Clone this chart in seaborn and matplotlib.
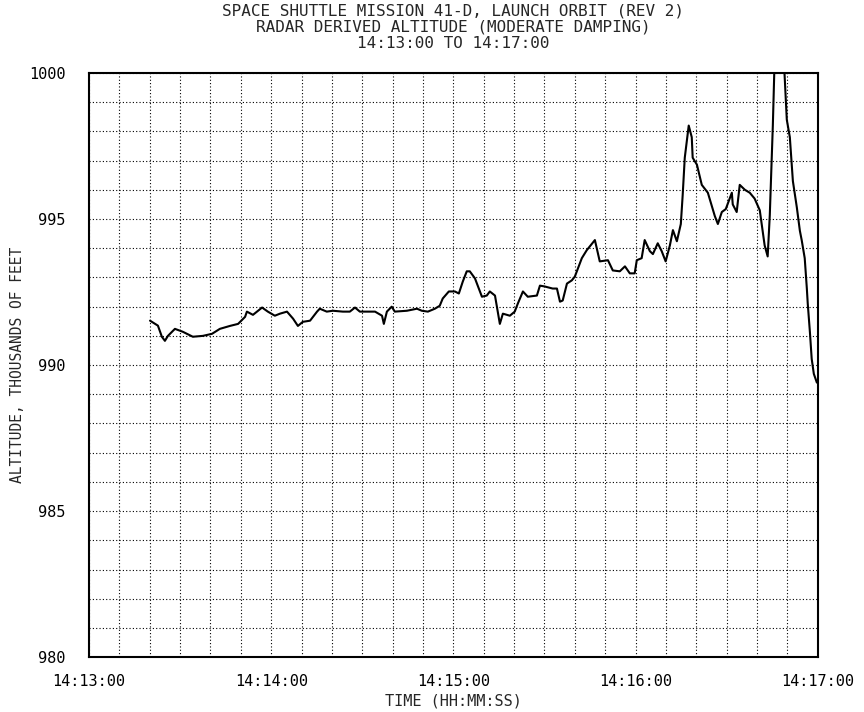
import numpy as np
import pandas as pd
import seaborn as sns
import matplotlib.pyplot as plt
from matplotlib.ticker import MultipleLocator

# seconds after 14:13:00
seconds = [
    20.1, 22.7, 24.0, 25.0, 26.0, 28.3, 30.9, 34.2, 37.5, 40.5,
    43.1, 46.4, 49.1, 51.4, 52.0, 54.0, 57.0, 58.9, 61.2, 62.9,
    65.2, 67.2, 68.8, 70.4, 72.8, 75.1, 76.0, 78.3, 80.3, 83.6,
    85.9, 87.6, 89.2, 91.5, 94.2, 96.5, 97.1, 98.1, 99.7, 100.7,
    104.7, 108.0, 109.6, 111.6, 113.9, 115.5, 116.5, 118.5, 120.5, 121.8,
    123.1, 124.4, 125.4, 127.1, 129.4, 131.0, 132.0, 133.7, 134.6, 135.3,
    136.3, 138.6, 140.2, 141.2, 142.9, 144.5, 147.5, 148.5, 150.1, 152.7,
    154.1, 155.1, 156.0, 157.4, 159.0, 160.0, 162.3, 163.9, 166.6, 168.2,
    170.9, 172.5, 174.8, 176.5, 178.1, 179.7, 180.4, 182.0, 183.0, 184.7,
    185.7, 187.3, 188.6, 189.9, 191.3, 192.3, 193.6, 194.9, 195.5, 196.2,
    197.5, 198.5, 198.8, 200.2, 201.8, 203.8, 206.1, 207.1, 208.4, 209.7,
    211.7, 212.0, 213.3, 214.3, 216.0, 217.6, 219.2, 220.9, 222.5, 223.5,
    224.2, 225.2, 225.8, 226.8, 228.1, 228.8, 229.8, 230.8, 231.8, 233.1,
    234.1, 234.7, 235.7, 236.4, 236.7, 237.4, 238.0, 238.7, 239.7,
]
# altitude, thousands of feet
altitude = [
    991.52, 991.35, 990.97, 990.83, 991.00, 991.24, 991.14, 990.97, 991.00, 991.07,
    991.24, 991.34, 991.41, 991.65, 991.83, 991.72, 991.97, 991.83, 991.69, 991.76,
    991.83, 991.59, 991.34, 991.48, 991.52, 991.83, 991.93, 991.83, 991.86, 991.83,
    991.83, 991.97, 991.83, 991.83, 991.83, 991.69, 991.41, 991.83, 992.00, 991.83,
    991.86, 991.93, 991.86, 991.83, 991.93, 992.03, 992.28, 992.52, 992.52, 992.45,
    992.86, 993.21, 993.21, 992.97, 992.34, 992.38, 992.52, 992.38, 991.83, 991.41,
    991.76, 991.69, 991.83, 992.10, 992.52, 992.34, 992.38, 992.72, 992.69, 992.62,
    992.62, 992.17, 992.21, 992.79, 992.90, 993.03, 993.66, 993.93, 994.28, 993.55,
    993.59, 993.24, 993.21, 993.38, 993.14, 993.14, 993.59, 993.66, 994.28, 993.90,
    993.80, 994.17, 993.90, 993.55, 994.10, 994.62, 994.24, 994.83, 995.80, 997.10,
    998.20, 997.80, 997.10, 996.86, 996.17, 995.90, 995.10, 994.83, 995.24, 995.34,
    995.90, 995.50, 995.24, 996.17, 996.00, 995.90, 995.70, 995.30, 994.10, 993.72,
    995.14, 998.20, 1000.50, 1003.00, 1003.00, 1000.50, 998.40, 997.80, 996.30, 995.40,
    994.60, 994.28, 993.66, 992.62, 992.10, 991.14, 990.21, 989.70, 989.40,
]

tick_secs = [0, 60, 120, 180, 240]
tick_labels = ['14:13:00', '14:14:00', '14:15:00', '14:16:00', '14:17:00']
alt_ticks = [980, 985, 990, 995, 1000]

sns.set_style("white")
plt.rcParams['font.family'] = ['DejaVu Sans Mono']

df = pd.DataFrame({'t': seconds, 'alt': altitude})

fig = plt.figure(figsize=(8.64, 7.12), dpi=100)
ax = fig.add_axes([0.103, 0.077, 0.8435, 0.8205])

sns.lineplot(data=df, x='t', y='alt', color='black', linewidth=1.5, sort=False, ax=ax)

ax.set_xlim(0, 240)
ax.set_ylim(980, 1000)
ax.set_xticks(tick_secs)
ax.set_xticklabels(tick_labels)
ax.set_yticks(alt_ticks)
ax.set_yticklabels([str(v) for v in alt_ticks])
ax.xaxis.set_minor_locator(MultipleLocator(10))
ax.yaxis.set_minor_locator(MultipleLocator(1))

# dotted chart-paper grid
ax.grid(which='both', color='black', linestyle=(0, (1, 2)), linewidth=0.8)
ax.tick_params(which='major', direction='in', length=11, width=1.3, color='black',
               labelsize=11, labelcolor='black')
ax.tick_params(axis='x', which='major', pad=12)
ax.tick_params(axis='y', which='major', pad=17)
ax.tick_params(which='minor', length=0)

for s in ax.spines.values():
    s.set_color('black')
    s.set_linewidth(1.5)

ax.set_xlabel('TIME (HH:MM:SS)', fontsize=11, labelpad=3)
ax.set_ylabel('ALTITUDE, THOUSANDS OF FEET', fontsize=10.5)
ax.yaxis.set_label_coords(-0.088, 0.5)
ax.set_title('SPACE SHUTTLE MISSION 41-D, LAUNCH ORBIT (REV 2)\n'
             'RADAR DERIVED ALTITUDE (MODERATE DAMPING)\n'
             '14:13:00 TO 14:17:00', fontsize=11.5, linespacing=1.1, pad=18)

fig.savefig('out.png', dpi=100)
